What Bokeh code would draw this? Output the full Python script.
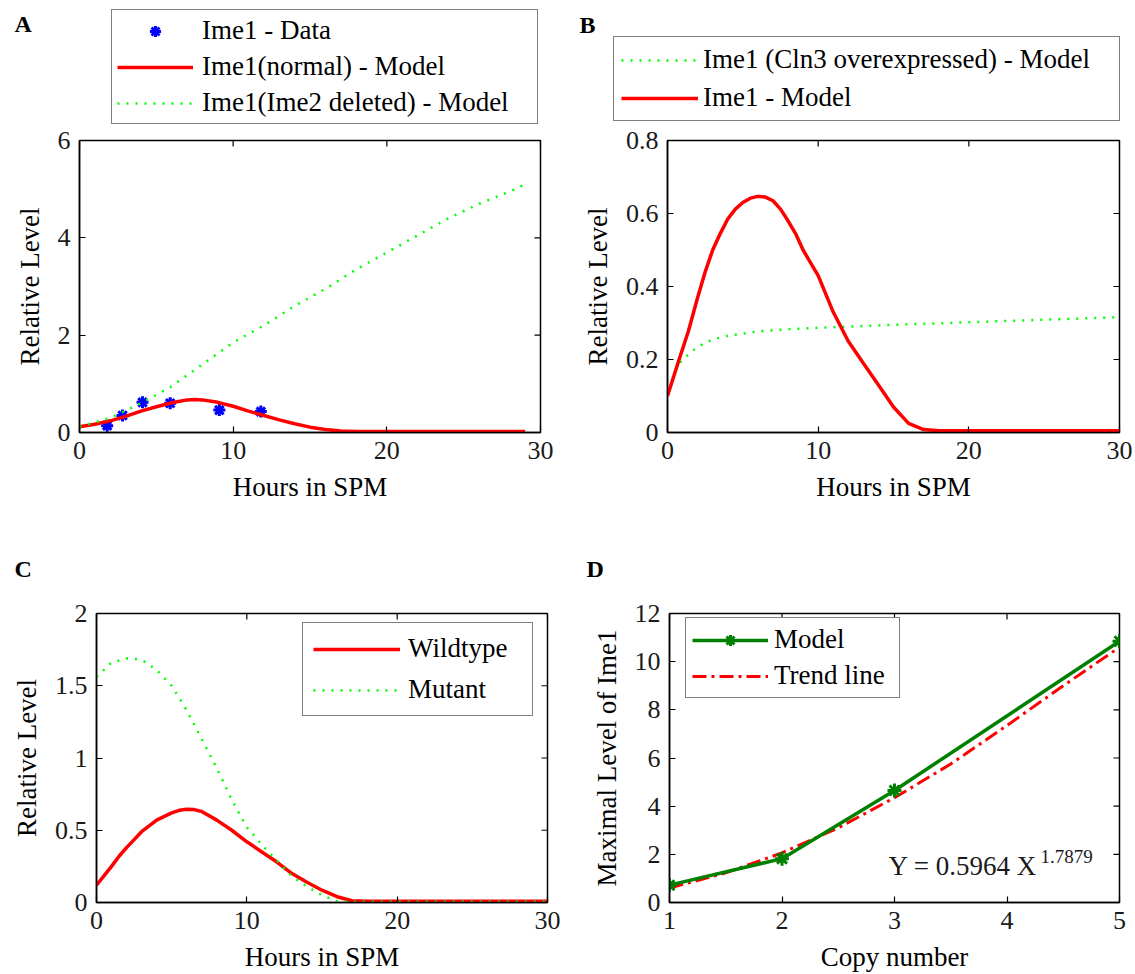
import math
from bokeh.plotting import figure
from bokeh.models import (Range1d, FixedTicker, NumeralTickFormatter,
                          Legend, LegendItem, Label)
from bokeh.layouts import column, row
from bokeh.embed import file_html
from bokeh.resources import INLINE

SERIF = "Liberation Serif"

# ---------------- Panel A ----------------
a_data_hours = [1.8, 2.8, 4.1, 5.9, 9.1, 11.8]
a_data_level = [0.14, 0.35, 0.62, 0.60, 0.46, 0.43]
a_model_hours = [0, 1, 2, 3, 4, 5, 6, 7, 7.5, 8, 9, 10, 11, 12, 13, 14, 15, 16, 17, 18, 20, 22, 24, 26, 28, 29]
a_normal_level = [0.12, 0.17, 0.24, 0.33, 0.44, 0.53, 0.61, 0.67, 0.68, 0.67, 0.62, 0.54, 0.44, 0.35,
                  0.26, 0.18, 0.11, 0.06, 0.03, 0.02, 0.02, 0.02, 0.02, 0.02, 0.02, 0.02]
a_del_hours = [0, 2, 4, 6, 8, 10, 12, 14, 16, 18, 20, 22, 24, 26, 28, 29]
a_del_level = [0.12, 0.3, 0.6, 0.95, 1.4, 1.85, 2.2, 2.6, 2.95, 3.35, 3.7, 4.05, 4.4, 4.7, 4.95, 5.1]

# ---------------- Panel B ----------------
b_hours = [0, 0.67, 1.39, 2, 2.5, 3, 3.5, 4, 4.5, 5, 5.5, 6, 6.5, 7, 7.5, 8, 8.5, 9, 9.5, 10, 11, 12,
           13, 14, 15, 16, 17, 18, 20, 25, 30]
b_model_level = [0.10, 0.187, 0.278, 0.37, 0.44, 0.50, 0.545, 0.585, 0.612, 0.63, 0.642, 0.647, 0.645,
                 0.635, 0.612, 0.58, 0.545, 0.50, 0.465, 0.43, 0.33, 0.25, 0.19, 0.13, 0.07, 0.025,
                 0.008, 0.005, 0.005, 0.005, 0.005]
b_cln3_hours = [0, 0.5, 1, 2, 3, 4, 6, 8, 10, 12, 15, 20, 25, 30]
b_cln3_level = [0.10, 0.17, 0.20, 0.235, 0.255, 0.265, 0.277, 0.283, 0.287, 0.29, 0.295, 0.302, 0.309, 0.316]

# ---------------- Panel C ----------------
c_hours = [0, 1, 1.5, 2, 3, 4, 5, 5.5, 6, 6.5, 7, 8, 9, 10, 11, 12, 13, 14, 15, 16, 17, 18, 30]
c_wild_level = [0.12, 0.25, 0.32, 0.38, 0.49, 0.57, 0.62, 0.638, 0.646, 0.643, 0.63, 0.57, 0.50, 0.42,
                0.35, 0.28, 0.20, 0.14, 0.085, 0.04, 0.012, 0.008, 0.008]
c_mut_hours = [0, 1, 2, 3, 4, 5, 6, 7, 8, 9, 10, 11, 12, 13, 14, 15, 16, 17, 30]
c_mut_level = [1.56, 1.66, 1.69, 1.68, 1.61, 1.50, 1.33, 1.13, 0.93, 0.71, 0.52, 0.40, 0.29, 0.18,
               0.11, 0.05, 0.01, 0.005, 0.005]

# ---------------- Panel D ----------------
d_copy = [1, 2, 3, 5]
d_model_max = [0.72, 1.82, 4.65, 10.85]
d_trend_copy = [1, 1.5, 2, 2.5, 3, 3.5, 4, 4.5, 5]
d_trend_max = [0.60, 1.23, 2.06, 3.1, 4.35, 5.75, 7.35, 9.0, 10.6]
d_equation = "Y = 0.5964 X"
d_exponent = "1.7879"

hours_ticks = [0, 10, 20, 30]

GREEN_DOT = "#00ff00"
RED = "#ff0000"
DARK_GREEN = "#008000"


def style_axis(ax, ticks, fmt, label_standoff, axis_label_standoff):
    ax.ticker = FixedTicker(ticks=ticks)
    ax.formatter = NumeralTickFormatter(format=fmt)
    ax.major_tick_in = 6
    ax.major_tick_out = 0
    ax.minor_tick_line_color = None
    ax.axis_line_color = "black"
    ax.axis_line_width = 1.5
    ax.major_tick_line_color = "black"
    ax.major_tick_line_width = 1.2
    ax.major_label_text_font = SERIF
    ax.major_label_text_color = "#1a1a1a"
    ax.major_label_text_font_size = "26px"
    ax.major_label_standoff = label_standoff
    ax.axis_label_text_font = SERIF
    ax.axis_label_text_font_size = "27px"
    ax.axis_label_text_font_style = "normal"
    ax.axis_label_text_color = "black"
    ax.axis_label_standoff = axis_label_standoff


def make_fig(w, h, left, right, top, bottom, xr, yr, xticks, yticks, xfmt, yfmt, xlabel, ylabel):
    p = figure(width=w, height=h, x_range=Range1d(*xr), y_range=Range1d(*yr),
               toolbar_location=None, output_backend="svg",
               min_border_left=left, min_border_right=right,
               min_border_top=top, min_border_bottom=bottom)
    p.grid.visible = False
    p.outline_line_color = "black"
    p.outline_line_width = 1.5
    p.background_fill_color = "white"
    p.border_fill_color = "white"
    style_axis(p.xaxis[0], xticks, xfmt, 9, 10)
    style_axis(p.yaxis[0], yticks, yfmt, 9, 10)
    p.xaxis[0].axis_label = xlabel
    p.yaxis[0].axis_label = ylabel
    # inward tick marks on the top and right edges of the box (half clipped by the frame)
    p.scatter(xticks, [yr[1]] * len(xticks), marker="dash", angle=math.pi / 2, size=12,
              line_color="black", line_width=1.2)
    p.scatter([xr[1]] * len(yticks), yticks, marker="dash", size=12,
              line_color="black", line_width=1.2)
    return p


def header(w, h):
    # strip above a panel; its ranges lie away from all data so the series drawn here
    # for the legend keys are clipped out of view
    f = figure(width=w, height=h, x_range=Range1d(-100, -99), y_range=Range1d(-100, -99),
               toolbar_location=None, output_backend="svg", title=None,
               x_axis_location=None, y_axis_location=None,
               min_border_left=0, min_border_right=0, min_border_top=0, min_border_bottom=0)
    f.grid.visible = False
    f.outline_line_color = None
    f.background_fill_color = "white"
    f.border_fill_color = "white"
    return f


def add_text(p, text, x, y, size, bold=False, color="black"):
    p.add_layout(Label(x=x, y=y, x_units="screen", y_units="screen", text=text,
                       text_font=SERIF, text_font_style="bold" if bold else "normal",
                       text_font_size=size, text_baseline="alphabetic", text_color=color))


def make_legend(items, loc, padding, spacing, glyph_w, standoff, label_w):
    return Legend(items=items, location=loc, orientation="vertical", padding=padding,
                  spacing=spacing, margin=0, glyph_width=glyph_w, glyph_height=28,
                  label_height=28, label_width=label_w, label_standoff=standoff,
                  label_text_font=SERIF, label_text_font_size="27px", label_text_color="black",
                  border_line_color="black", border_line_width=1.5,
                  background_fill_color="white", background_fill_alpha=1.0)


# ---- A ----
hA = header(567, 125)
pA = make_fig(567, 395, 79, 27, 15, 88, (0, 30), (0, 6), hours_ticks, [0, 2, 4, 6],
              "0", "0", "Hours in SPM", "Relative Level")
pA.scatter(a_data_hours, a_data_level, marker="asterisk", size=12, line_color="blue", line_width=3)
pA.line(a_model_hours, a_normal_level, color=RED, line_width=3.5)
pA.line(a_del_hours, a_del_level, color=GREEN_DOT, line_width=2.5, line_dash="2 7")
kA_data = hA.scatter(a_data_hours, a_data_level, marker="asterisk", size=12, line_color="blue", line_width=3)
kA_norm = hA.line(a_model_hours, a_normal_level, color=RED, line_width=3.5)
kA_del = hA.line(a_del_hours, a_del_level, color=GREEN_DOT, line_width=2.5, line_dash="2 7")
hA.add_layout(make_legend([
    LegendItem(label="Ime1 - Data", renderers=[kA_data]),
    LegendItem(label="Ime1(normal) - Model", renderers=[kA_norm]),
    LegendItem(label="Ime1(Ime2 deleted) - Model", renderers=[kA_del]),
], (111, 1), 5, 5, 76, 9, 330))
add_text(hA, "A", 14, 102, "24px", bold=True)

# ---- B ----
hB = header(568, 125)
pB = make_fig(568, 395, 100, 16, 15, 84, (0, 30), (0, 0.8), hours_ticks, [0, 0.2, 0.4, 0.6, 0.8],
              "0", "0.[0]", "Hours in SPM", "Relative Level")
pB.line(b_cln3_hours, b_cln3_level, color=GREEN_DOT, line_width=2.5, line_dash="2 7")
pB.line(b_hours, b_model_level, color=RED, line_width=3.5)
kB_cln3 = hB.line(b_cln3_hours, b_cln3_level, color=GREEN_DOT, line_width=2.5, line_dash="2 7")
kB_model = hB.line(b_hours, b_model_level, color=RED, line_width=3.5)
hB.add_layout(make_legend([
    LegendItem(label="Ime1 (Cln3 overexpressed) - Model", renderers=[kB_cln3]),
    LegendItem(label="Ime1 - Model", renderers=[kB_model]),
], (46, 4), 7, 7, 77, 5, 409))
add_text(hB, "B", 12, 101, "24px", bold=True)

# ---- C ----
hC = header(567, 80)
pC = make_fig(567, 374, 96, 20, 13, 71, (0, 30), (0, 2), hours_ticks, [0, 0.5, 1, 1.5, 2],
              "0", "0.[0]", "Hours in SPM", "Relative Level")
rC_wild = pC.line(c_hours, c_wild_level, color=RED, line_width=3.5)
rC_mut = pC.line(c_mut_hours, c_mut_level, color=GREEN_DOT, line_width=2.5, line_dash="2 7")
pC.add_layout(make_legend([
    LegendItem(label="Wildtype", renderers=[rC_wild]),
    LegendItem(label="Mutant", renderers=[rC_mut]),
], (206, 186), 10, 10, 87, 8, 114))
add_text(hC, "C", 14, 32, "24px", bold=True)

# ---- D ----
hD = header(568, 80)
pD = make_fig(568, 374, 102, 16, 13, 71, (1, 5), (0, 12), [1, 2, 3, 4, 5], [0, 2, 4, 6, 8, 10, 12],
              "0", "0", "Copy number", "Maximal Level of Ime1")
rD_trend = pD.line(d_trend_copy, d_trend_max, color=RED, line_width=3, line_dash="14 5 3 5")
rD_line = pD.line(d_copy, d_model_max, color=DARK_GREEN, line_width=3.5)
rD_pts = pD.scatter(d_copy, d_model_max, marker="asterisk", size=14, line_color=DARK_GREEN, line_width=3)
pD.add_layout(make_legend([
    LegendItem(label="Model", renderers=[rD_line, rD_pts]),
    LegendItem(label="Trend line", renderers=[rD_trend]),
], (16, 204), 6, 5, 76, 6, 119))
add_text(hD, "D", 19, 32, "24px", bold=True)
add_text(pD, d_equation, 219, 37, "27px", color="#1a1a1a")
add_text(pD, d_exponent, 371, 46, "19px", color="#1a1a1a")

layout = column(row(hA, hB), row(pA, pB), row(hC, hD), row(pC, pD))
open("out.html", "w").write(file_html(layout, INLINE))
